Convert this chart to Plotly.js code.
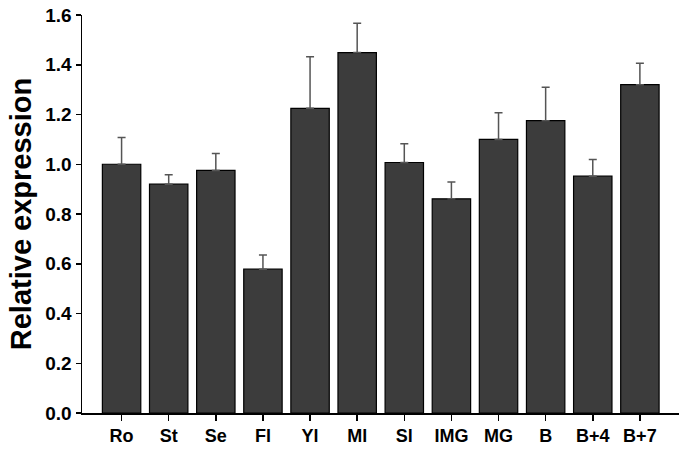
<!DOCTYPE html>
<html>
<head>
<meta charset="utf-8">
<script src="https://cdn.plot.ly/plotly-3.0.1.min.js"></script>
<style>html,body{margin:0;padding:0;background:#fff;}#chart{width:686px;height:451px;}</style>
</head>
<body>
<div id="chart"></div>
<script>
const categories = ["Ro", "St", "Se", "Fl", "Yl", "Ml", "Sl", "IMG", "MG", "B", "B+4", "B+7"];
const values = [1.00, 0.92, 0.975, 0.578, 1.225, 1.449, 1.007, 0.861, 1.100, 1.175, 0.952, 1.320];
const errors = [0.108, 0.038, 0.068, 0.057, 0.207, 0.118, 0.075, 0.068, 0.107, 0.135, 0.067, 0.086];
const yTicks = [0, 0.2, 0.4, 0.6, 0.8, 1.0, 1.2, 1.4, 1.6];

const font = "Liberation Sans, Arial, sans-serif";

Plotly.newPlot("chart", [{
  type: "bar",
  x: categories,
  y: values,
  width: 0.815,
  marker: {color: "#3c3c3c", line: {color: "#000000", width: 1.2}},
  error_y: {
    type: "data",
    array: errors,
    arrayminus: errors.map(() => 0),
    symmetric: false,
    color: "#555555",
    thickness: 1.5,
    width: 4
  },
  hoverinfo: "none"
}], {
  width: 686,
  height: 451,
  margin: {l: 82, r: 7, t: 15, b: 38},
  paper_bgcolor: "#ffffff",
  plot_bgcolor: "#ffffff",
  showlegend: false,
  xaxis: {
    type: "category",
    range: [-0.84, 11.83],
    showline: true,
    linecolor: "#000000",
    linewidth: 1.5,
    ticks: "outside",
    ticklen: 6,
    tickwidth: 1.5,
    tickcolor: "#000000",
    showgrid: false,
    zeroline: false,
    tickfont: {family: font, size: 18, color: "#000000", weight: "bold"}
  },
  yaxis: {
    range: [0, 1.6],
    tickvals: yTicks,
    ticktext: yTicks.map(v => v.toFixed(1)),
    showline: true,
    linecolor: "#000000",
    linewidth: 1.5,
    ticks: "outside",
    ticklen: 5,
    tickwidth: 1.5,
    tickcolor: "#000000",
    showgrid: false,
    zeroline: false,
    tickfont: {family: font, size: 19, color: "#000000", weight: "bold"},
    title: {text: "Relative expression", font: {family: font, size: 29, color: "#000000", weight: "bold"}, standoff: 5}
  }
}, {staticPlot: true});
</script>
</body>
</html>
